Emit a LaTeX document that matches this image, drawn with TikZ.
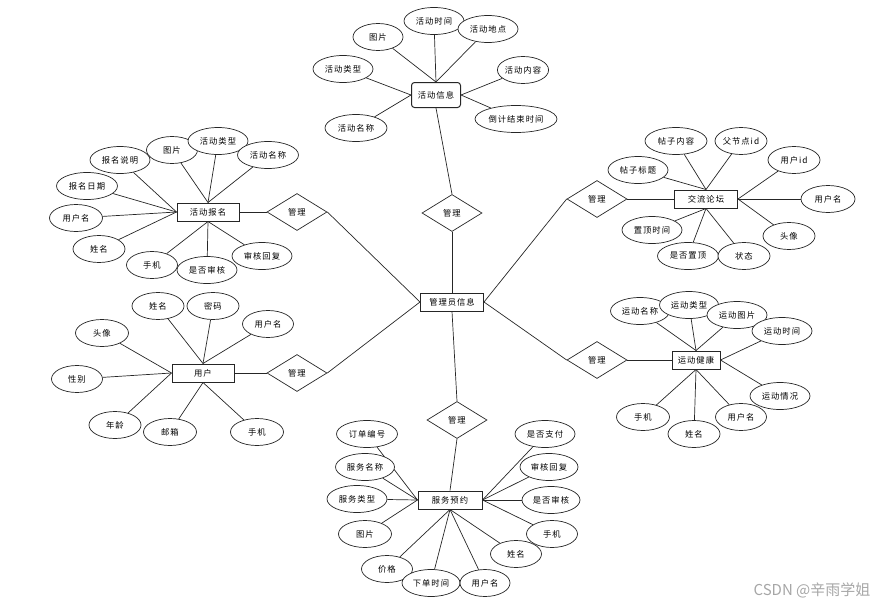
\documentclass[tikz,border=0pt]{standalone}
\usepackage{fontspec}
\setmainfont{Noto Sans CJK SC}
\usetikzlibrary{shapes.geometric}
\tikzset{
  x=1pt, y=-1pt,
  lbl/.style={font=\fontsize{8.3}{10}\selectfont\addfontfeature{LetterSpace=12}},
  ent/.style={lbl, draw=black!85, line width=1pt, rectangle, inner sep=0pt, minimum height=18, fill=white},
  rel/.style={lbl, draw=black!85, line width=0.7pt, diamond, inner sep=0pt, minimum width=60, minimum height=37, shape aspect=1.62, fill=white},
  attr/.style={lbl, draw=black!85, line width=0.7pt, ellipse, inner sep=0pt, minimum width=#1, minimum height=27, fill=white},
  attr/.default=55,
  lnk/.style={draw=black!85, line width=0.7pt}
}
\begin{document}
\begin{tikzpicture}
\useasboundingbox (0,0) rectangle (881,605);
% entities
\node[ent, rounded corners=3pt, minimum width=49, minimum height=25] (hdxx) at (436,95) {活动信息};
\node[ent, minimum width=62] (hdbm) at (208,212) {活动报名};
\node[ent, minimum width=63] (jllt) at (706,199) {交流论坛};
\node[ent, minimum width=62] (yh) at (203,373) {用户};
\node[ent, minimum width=48] (ydjk) at (696,360) {运动健康};
\node[ent, minimum width=64] (fwyy) at (450,500) {服务预约};
\node[ent, minimum width=63] (admin) at (452,302) {管理员信息};
% relations
\node[rel] (d1) at (297,212) {管理};
\node[rel] (d2) at (297,373) {管理};
\node[rel] (d3) at (452,213) {管理};
\node[rel] (d4) at (597,199) {管理};
\node[rel] (d5) at (597,360) {管理};
\node[rel] (d6) at (457,420) {管理};
\draw[lnk] (admin.west) -- (d1.east);
\draw[lnk] (admin.west) -- (d2.east);
\draw[lnk] (admin.north) -- (d3.south);
\draw[lnk] (admin.east) -- (d4.west);
\draw[lnk] (admin.east) -- (d5.west);
\draw[lnk] (admin.south) -- (d6.north);
\draw[lnk] (d1.west) -- (hdbm.east);
\draw[lnk] (d2.west) -- (yh.east);
\draw[lnk] (d3.north) -- (hdxx.south);
\draw[lnk] (d4.east) -- (jllt.west);
\draw[lnk] (d5.east) -- (ydjk.west);
\draw[lnk] (d6.south) -- (fwyy.north);
% attributes of 活动信息
\foreach \n/\x/\y/\w/\t/\a in {
  1/378/37/50/图片/north, 2/434/21/60/活动时间/north, 3/488/29/60/活动地点/north,
  4/343/69/60/活动类型/west, 5/356/128/62/活动名称/west,
  6/523/70/50/活动内容/east, 7/516/119/82/倒计结束时间/east}
{\node[attr=\w] (xx\n) at (\x,\y) {\t}; \draw[lnk] (xx\n) -- (hdxx.\a);}
% attributes of 活动报名
\foreach \n/\x/\y/\w/\t/\a in {
  1/120/160/60/报名说明/west, 2/172/150/51/图片/north, 3/218/141/60/活动类型/north,
  4/268/155/61/活动名称/north, 5/87/186/61/报名日期/west, 6/76/218/53/用户名/west,
  7/99/249/52/姓名/west, 8/152/265/51/手机/south, 9/207/270/60/是否审核/south,
  10/262/256/60/审核回复/south}
{\node[attr=\w] (bm\n) at (\x,\y) {\t}; \draw[lnk] (bm\n) -- (hdbm.\a);}
% attributes of 交流论坛
\foreach \n/\x/\y/\w/\t/\a in {
  1/676/141/62/帖子内容/north, 2/741/141/52/父节点id/north, 3/794/160/52/用户id/east,
  4/638/170/60/帖子标题/north, 5/828/199/54/用户名/east, 6/789/236/52/头像/east,
  7/652/230/60/置顶时间/south, 8/688/256/61/是否置顶/south, 9/744/256/52/状态/south}
{\node[attr=\w] (lt\n) at (\x,\y) {\t}; \draw[lnk] (lt\n) -- (jllt.\a);}
% attributes of 用户
\foreach \n/\x/\y/\w/\t/\a in {
  1/158/306/52/姓名/north, 2/213/306/52/密码/north, 3/268/324/51/用户名/north,
  4/102/333/53/头像/west, 5/77/379/51/性别/west, 6/115/425/52/年龄/west,
  7/170/432/53/邮箱/south, 8/257/432/53/手机/south}
{\node[attr=\w] (yh\n) at (\x,\y) {\t}; \draw[lnk] (yh\n) -- (yh.\a);}
% attributes of 运动健康
\foreach \n/\x/\y/\w/\t/\a in {
  1/640/311/59/运动名称/north, 2/689/305/59/运动类型/north, 3/737/315/60/运动图片/north,
  4/782/331/60/运动时间/east, 5/780/396/60/运动情况/east, 6/643/417/53/手机/south,
  7/694/434/52/姓名/south, 8/741/417/51/用户名/south}
{\node[attr=\w] (jk\n) at (\x,\y) {\t}; \draw[lnk] (jk\n) -- (ydjk.\a);}
% attributes of 服务预约
\foreach \n/\x/\y/\w/\t/\a in {
  1/367/434/61/订单编号/west, 2/365/467/59/服务名称/west, 3/357/499/60/服务类型/west,
  4/365/534/53/图片/west, 5/387/569/51/价格/south, 6/431/583/58/下单时间/south,
  7/485/583/50/用户名/south, 8/516/554/51/姓名/south, 9/552/534/51/手机/east,
  10/551/500/58/是否审核/east, 11/549/467/58/审核回复/east, 12/545/434/60/是否支付/east}
{\node[attr=\w] (yy\n) at (\x,\y) {\t}; \draw[lnk] (yy\n) -- (fwyy.\a);}
% watermark
\node[text=black!35, font=\fontsize{15}{17}\selectfont, inner sep=0pt] (wm) at (812,590) {CSDN @辛雨学姐};
\end{tikzpicture}
\end{document}
